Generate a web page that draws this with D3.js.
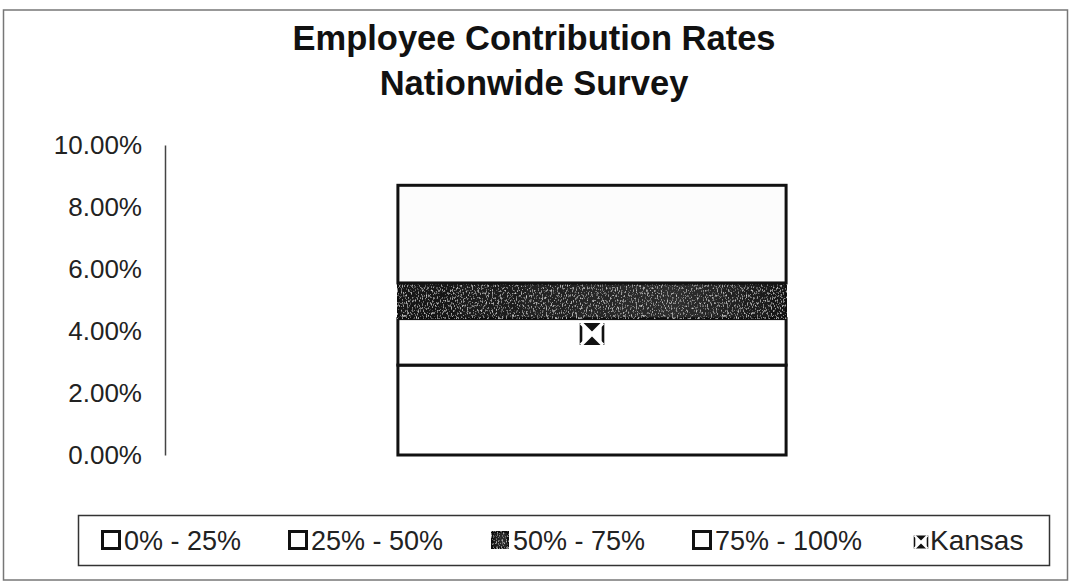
<!DOCTYPE html>
<html>
<head>
<meta charset="utf-8">
<script src="https://cdn.jsdelivr.net/npm/d3@7"></script>
<style>
  html, body { margin: 0; padding: 0; background: #fff; }
  svg { display: block; font-family: Arial, "Liberation Sans", sans-serif; }
</style>
</head>
<body>
<svg id="chart" width="1072" height="585"></svg>
<script>
// Survey data: one stacked column, each segment is the width of a quartile band (in %)
const categories = ["Nationwide"];
const seriesNames = ["0% - 25%", "25% - 50%", "50% - 75%", "75% - 100%"];
const seriesValues = [2.9, 1.5, 1.15, 3.15];
const kansasValue = [3.9];
const yTicks = [0, 2, 4, 6, 8, 10];

const svg = d3.select("#chart");

// defs: grainy texture for the dark band
const defs = svg.append("defs");
const grain = defs.append("filter").attr("id", "grain")
  .attr("x", 0).attr("y", 0).attr("width", 1).attr("height", 1);
grain.append("feTurbulence").attr("type", "fractalNoise")
  .attr("baseFrequency", "0.8 0.4").attr("numOctaves", 2).attr("seed", 11).attr("result", "noise");
grain.append("feColorMatrix").attr("in", "noise").attr("type", "matrix")
  .attr("values", "0 0 0 0 0.62  0 0 0 0 0.62  0 0 0 0 0.62  0 0 0 -3.2 1.45")
  .attr("result", "specks");
grain.append("feComposite").attr("in", "specks").attr("in2", "SourceGraphic").attr("operator", "in").attr("result", "clipped");
grain.append("feMerge").selectAll("feMergeNode").data(["SourceGraphic", "clipped"]).enter()
  .append("feMergeNode").attr("in", d => d);

const grad = defs.append("linearGradient").attr("id", "darkband").attr("x1", 0).attr("x2", 1);
grad.append("stop").attr("offset", "0%").attr("stop-color", "#141414");
grad.append("stop").attr("offset", "50%").attr("stop-color", "#262626");
grad.append("stop").attr("offset", "72%").attr("stop-color", "#2e2e2e");
grad.append("stop").attr("offset", "100%").attr("stop-color", "#161616");

// outer chart frame
svg.append("rect").attr("x", 3.5).attr("y", 10).attr("width", 1064).attr("height", 570)
  .attr("fill", "none").attr("stroke", "#777").attr("stroke-width", 1.5);

// title
const title = svg.append("text").attr("text-anchor", "middle")
  .attr("font-weight", "bold").attr("font-size", 34.5).attr("fill", "#111");
title.append("tspan").attr("x", 534).attr("y", 50).text("Employee Contribution Rates");
title.append("tspan").attr("x", 534).attr("y", 95).text("Nationwide Survey");

// scales
const y = d3.scaleLinear().domain([0, 10]).range([455, 145]);
const x = d3.scaleBand().domain(categories).range([165, 1019]).padding(0.375);

// y axis (line only, no tick marks)
const yAxis = d3.axisLeft(y).tickValues(yTicks).tickSize(0).tickPadding(23)
  .tickFormat(d => d3.format(".2f")(d) + "%");
const gy = svg.append("g").attr("transform", "translate(165,0)").call(yAxis);
gy.select(".domain").attr("stroke", "#444").attr("stroke-width", 1.5);
gy.selectAll("text").attr("font-size", 26).attr("fill", "#222")
  .attr("font-family", "Arial, 'Liberation Sans', sans-serif");

// stacked segments
const stacked = [];
let acc = 0;
seriesValues.forEach((v, i) => { stacked.push({ name: seriesNames[i], y0: acc, y1: acc + v, i }); acc += v; });
const fills = ["#ffffff", "#ffffff", "url(#darkband)", "#fcfcfc"];

svg.append("g").selectAll("rect").data(stacked).enter().append("rect")
  .attr("x", x(categories[0]))
  .attr("width", x.bandwidth())
  .attr("y", d => y(d.y1))
  .attr("height", d => y(d.y0) - y(d.y1))
  .attr("fill", d => fills[d.i])
  .attr("filter", d => d.i === 2 ? "url(#grain)" : null)
  .attr("stroke", "#111").attr("stroke-width", 3);

// Kansas marker: square split by a white X into dark top/bottom wedges
function kansasMarker(g, cx, cy, s) {
  const h = s / 2;
  g.append("rect").attr("x", cx - h).attr("y", cy - h).attr("width", s).attr("height", s)
    .attr("fill", "#fff");
  g.append("path").attr("d", `M${cx - h},${cy - h}L${cx + h},${cy - h}L${cx},${cy}Z`).attr("fill", "#111");
  g.append("path").attr("d", `M${cx - h},${cy + h}L${cx + h},${cy + h}L${cx},${cy}Z`).attr("fill", "#111");
  g.append("path").attr("d", `M${cx - h},${cy - h}L${cx - h},${cy + h}M${cx + h},${cy - h}L${cx + h},${cy + h}`)
    .attr("stroke", "#111").attr("stroke-width", s * 0.12);
  g.append("path").attr("d", `M${cx - h},${cy - h}L${cx + h},${cy + h}M${cx + h},${cy - h}L${cx - h},${cy + h}`)
    .attr("stroke", "#fff").attr("stroke-width", s * 0.16);
}
const cx = x(categories[0]) + x.bandwidth() / 2;
kansasValue.forEach(v => kansasMarker(svg.append("g"), cx, y(v), 22));

// legend
const lg = svg.append("g");
lg.append("rect").attr("x", 78.5).attr("y", 515.5).attr("width", 971).attr("height", 50)
  .attr("fill", "#fff").attr("stroke", "#333").attr("stroke-width", 1.5);
const legendX = [101, 288, 490, 692];
seriesNames.forEach((name, i) => {
  const g = lg.append("g").attr("transform", `translate(${legendX[i]},540)`);
  g.append("rect").attr("x", 1.5).attr("y", -8.5).attr("width", 17).attr("height", 17)
    .attr("fill", fills[i]).attr("filter", i === 2 ? "url(#grain)" : null)
    .attr("stroke", "#111").attr("stroke-width", 3);
  g.append("text").attr("x", 23).attr("y", 10).attr("font-size", 27).attr("fill", "#222").text(name);
});
const kg = lg.append("g");
kansasMarker(kg, 921, 542, 13);
kg.append("text").attr("x", 930).attr("y", 550).attr("font-size", 28).attr("fill", "#222").text("Kansas");
</script>
</body>
</html>
